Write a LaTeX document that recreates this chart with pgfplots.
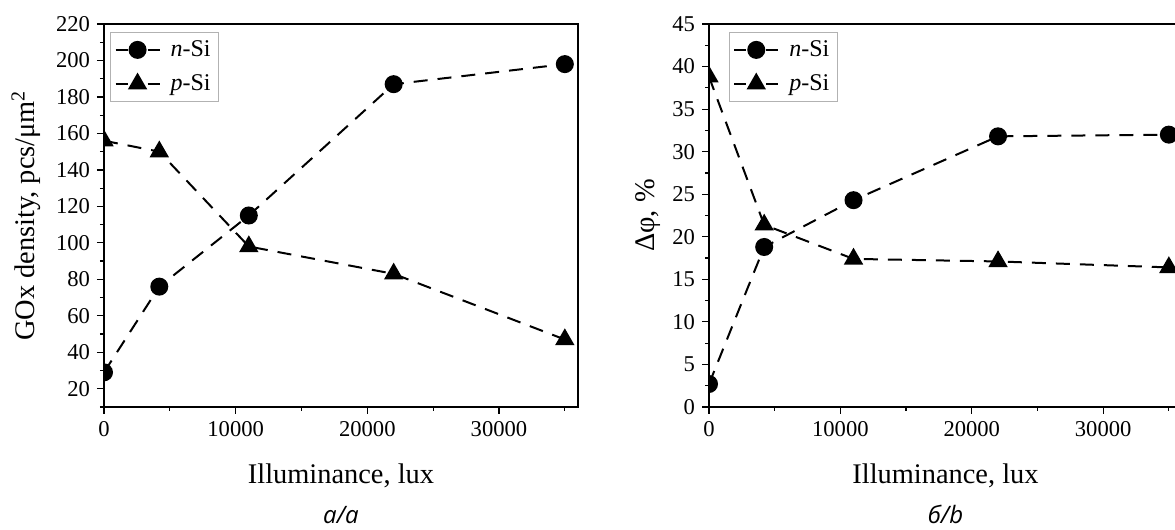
\documentclass[border=0pt]{standalone}
\usepackage{fontspec}
\setmainfont{Liberation Serif}
\newfontfamily\capfont{Open Sans}
\usepackage{pgfplots}
\pgfplotsset{compat=1.18}

\pgfplotsset{
  panel/.style={
    scale only axis, width=237pt, height=191.5pt,
    xmin=0, xmax=36000,
    xtick={0,10000,20000,30000},
    minor xtick={5000,15000,25000,35000},
    xtick pos=bottom, ytick pos=left,
    tick align=outside,
    major tick length=3.5pt, minor tick length=2pt,
    scaled x ticks=false,
    /pgf/number format/1000 sep={},
    /pgf/number format/assume math mode=true,
    tick label style={font=\fontsize{11.3}{13}\selectfont},
    label style={font=\fontsize{14.2}{16}\selectfont},
    xlabel={Illuminance, lux},
    xlabel style={at={(axis description cs:0.5,0)}, anchor=base, yshift=-38.5pt},
    axis line style={line width=0.6pt},
    every tick/.style={black, line width=0.6pt},
    clip marker paths=true,
    legend cell align=left,
    legend style={font=\fontsize{12}{14}\selectfont, draw=gray!60, line width=0.4pt,
      anchor=north west, inner sep=2pt, row sep=3.5pt},
    legend image code/.code={
      \draw[##1, mark=none, dash pattern=on 6pt off 10pt on 6pt] (0pt,0pt) -- (22pt,0pt);
      \draw[##1] plot[only marks] coordinates {(11pt,0pt)};
    },
  },
  ser/.style={black, line width=1pt, dash pattern=on 7pt off 5pt,
    mark options={solid, fill=black}},
}

\begin{document}
\begin{tikzpicture}

% panel a: GOx density
\begin{axis}[panel, name=left, at={(0,0)}, anchor=south west,
  ymin=10, ymax=220,
  ytick={20,40,...,220},
  minor ytick={10,30,...,210},
  ylabel={GOx density, pcs/μm\textsuperscript{2}},
  ylabel style={at={(axis description cs:0,0.5)}, anchor=base, yshift=34.5pt},
  legend style={at={(axis description cs:0.013,0.979)}},
  ]
  \addplot[ser, mark=*, mark size=4pt] coordinates {
    (0,29) (4200,76) (11000,115) (22000,187) (35000,198)
  };
  \addlegendentry{\hspace{3pt}\textit{n}-Si}
  \addplot[ser, mark=triangle*, mark size=4.6pt] coordinates {
    (0,156) (4200,150) (11000,98) (22000,83) (35000,47)
  };
  \addlegendentry{\hspace{3pt}\textit{p}-Si}
\end{axis}

% panel b: phase shift
\begin{axis}[panel, name=right, at={(302.5pt,0)}, anchor=south west,
  width=236.5pt,
  ymin=0, ymax=45,
  ytick={0,5,...,45},
  minor ytick={2.5,7.5,...,42.5},
  ylabel={Δφ, \%},
  ylabel style={at={(axis description cs:0,0.5)}, anchor=base, yshift=27pt},
  legend style={at={(axis description cs:0.042,0.979)}},
  ]
  \addplot[ser, mark=*, mark size=4pt] coordinates {
    (0,2.7) (4200,18.8) (11000,24.3) (22000,31.8) (35000,32.0)
  };
  \addlegendentry{\hspace{3pt}\textit{n}-Si}
  \addplot[ser, mark=triangle*, mark size=4.6pt] coordinates {
    (0,38.8) (4200,21.4) (11000,17.4) (22000,17.1) (35000,16.4)
  };
  \addlegendentry{\hspace{3pt}\textit{p}-Si}
\end{axis}

\node[font=\capfont\itshape\fontsize{12}{14}\selectfont, anchor=base]
  at ([yshift=-58.5pt]left.south) {а/a};
\node[font=\capfont\itshape\fontsize{12}{14}\selectfont, anchor=base]
  at ([yshift=-58.5pt]right.south) {б/b};

\pgfresetboundingbox
\path[use as bounding box] (-52pt,-61.5pt) rectangle (535.5pt,203.5pt);
\end{tikzpicture}
\end{document}
